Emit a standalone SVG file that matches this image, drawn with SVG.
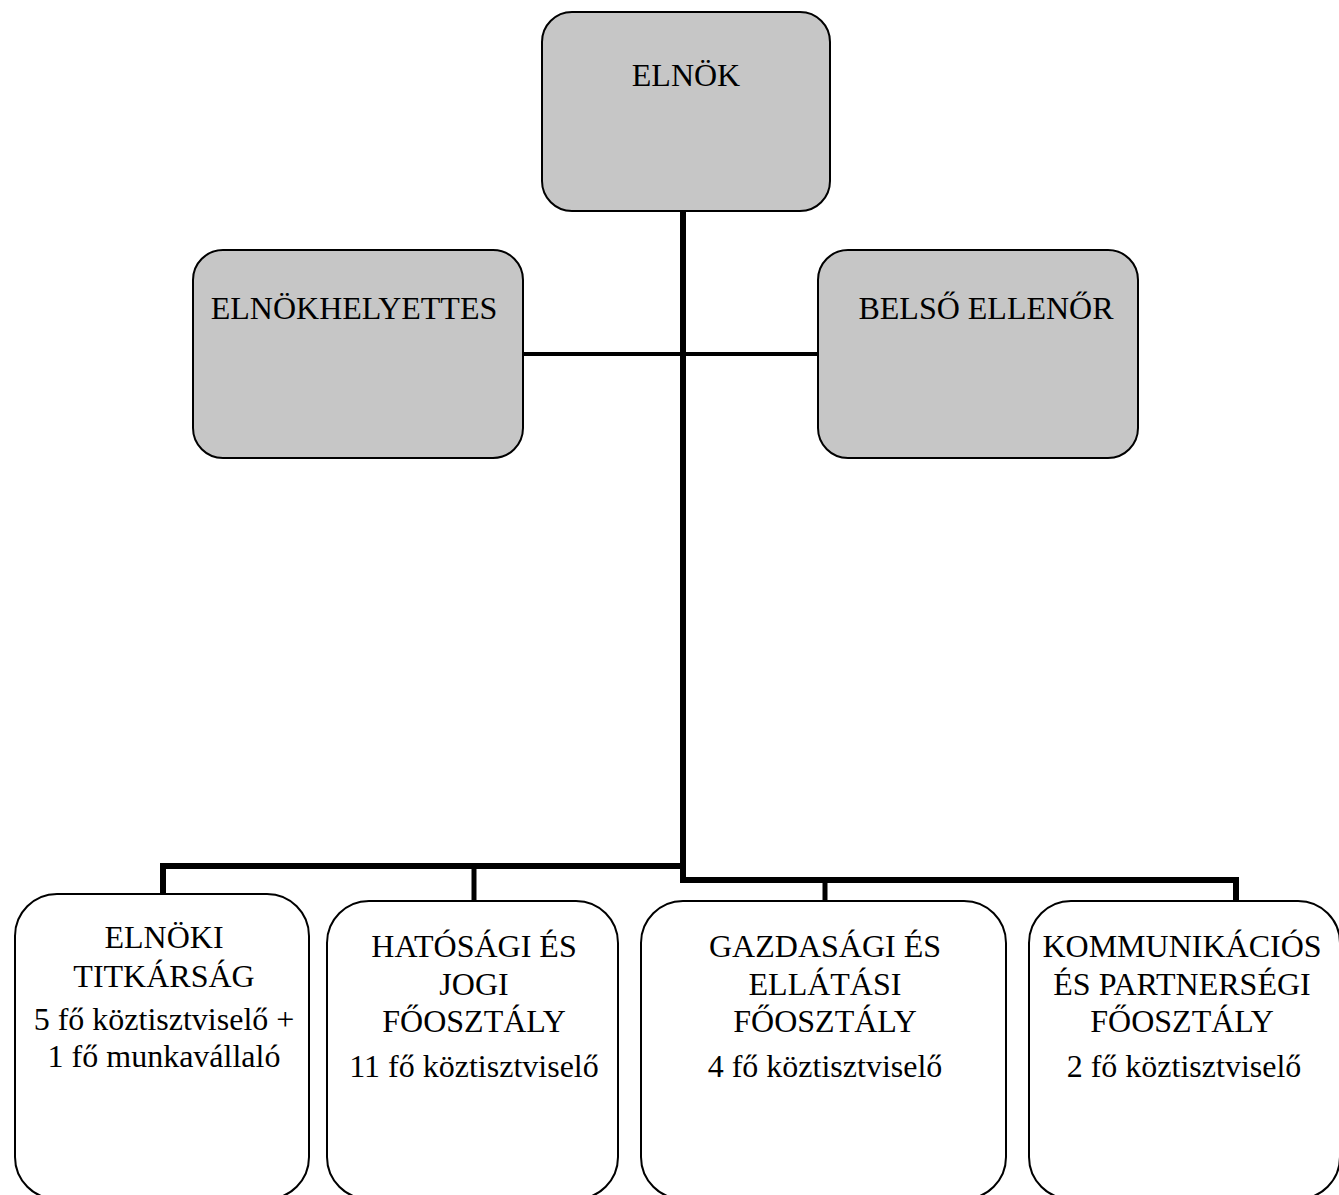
<svg xmlns="http://www.w3.org/2000/svg" width="1339" height="1195" viewBox="0 0 1339 1195">
<style>
.box{stroke:#000;stroke-width:2}
.grey{fill:#c6c6c6}
.white{fill:#fff}
.t{font-family:'Liberation Serif','Tinos','DejaVu Serif','Noto Serif',serif;font-size:32px;fill:#000;text-anchor:middle}
.conn{stroke:#000;fill:none;stroke-linecap:square}
</style>
<rect width="1339" height="1195" fill="#fff"/>
<g id="connectors">
<line class="conn" x1="683" y1="211" x2="683" y2="880" stroke-width="6"/>
<line class="conn" x1="523" y1="354" x2="818" y2="354" stroke-width="4"/>
<polyline class="conn" points="163,893 163,866 683,866" stroke-width="6"/>
<line class="conn" x1="474" y1="866" x2="474" y2="900" stroke-width="5"/>
<polyline class="conn" points="683,880 1236,880 1236,900" stroke-width="6"/>
<line class="conn" x1="825" y1="880" x2="825" y2="900" stroke-width="5"/>
</g>
<g class="t" font-family="Liberation Serif, DejaVu Serif, serif">
<g id="elnok">
<rect class="box grey" x="542" y="12" width="288" height="199" rx="30"/>
<text x="686" y="86">ELNÖK</text>
</g>
<g id="elnokhelyettes">
<rect class="box grey" x="193" y="250" width="330" height="208" rx="30"/>
<text x="354" y="319">ELNÖKHELYETTES</text>
</g>
<g id="belso-ellenor">
<rect class="box grey" x="818" y="250" width="320" height="208" rx="30"/>
<text x="986" y="319">BELSŐ ELLENŐR</text>
</g>
<g id="elnoki-titkarsag">
<rect class="box white" x="15" y="894" width="294" height="305" rx="42"/>
<text x="164" y="948">ELNÖKI</text>
<text x="164" y="987">TITKÁRSÁG</text>
<text x="164" y="1030">5 fő köztisztviselő +</text>
<text x="164" y="1067">1 fő munkavállaló</text>
</g>
<g id="hatosagi">
<rect class="box white" x="327" y="901" width="291" height="298" rx="42"/>
<text x="474" y="957">HATÓSÁGI ÉS</text>
<text x="474" y="995">JOGI</text>
<text x="474" y="1032">FŐOSZTÁLY</text>
<text x="474" y="1077">11 fő köztisztviselő</text>
</g>
<g id="gazdasagi">
<rect class="box white" x="641" y="901" width="365" height="298" rx="42"/>
<text x="825" y="957">GAZDASÁGI ÉS</text>
<text x="825" y="995">ELLÁTÁSI</text>
<text x="825" y="1032">FŐOSZTÁLY</text>
<text x="825" y="1077">4 fő köztisztviselő</text>
</g>
<g id="kommunikacios">
<rect class="box white" x="1029" y="901" width="311" height="298" rx="42"/>
<text x="1182" y="957">KOMMUNIKÁCIÓS</text>
<text x="1182" y="995">ÉS PARTNERSÉGI</text>
<text x="1182" y="1032">FŐOSZTÁLY</text>
<text x="1184" y="1077">2 fő köztisztviselő</text>
</g>
</g>
</svg>
